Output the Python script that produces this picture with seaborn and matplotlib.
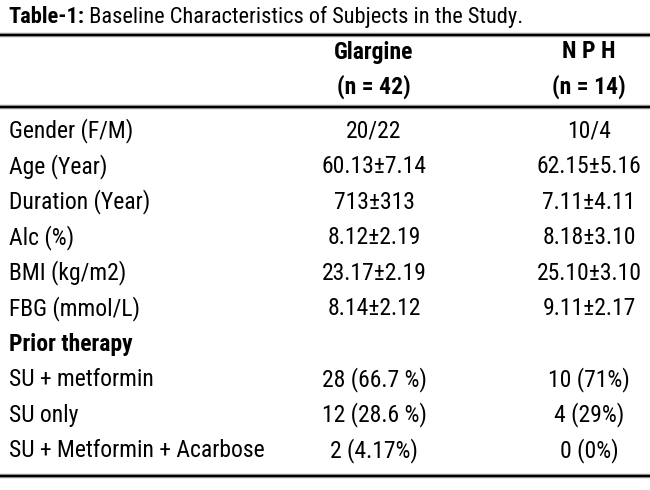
import matplotlib
matplotlib.use("Agg")
import matplotlib.pyplot as plt
from matplotlib import font_manager
import seaborn as sns

# table content
title_bold = "Table-1:"
title_rest = " Baseline Characteristics of Subjects in the Study."
col_names = ["Glargine", "N P H"]
col_counts = ["(n = 42)", "(n = 14)"]
row_labels = ["Gender (F/M)", "Age (Year)", "Duration (Year)", "Alc (%)",
              "BMI (kg/m2)", "FBG (mmol/L)", "Prior therapy",
              "SU + metformin", "SU only", "SU + Metformin + Acarbose"]
glargine = ["20/22", "60.13\u00b17.14", "713\u00b1313", "8.12\u00b12.19",
            "23.17\u00b12.19", "8.14\u00b12.12", "",
            "28 (66.7 %)", "12 (28.6 %)", "2 (4.17%)"]
nph = ["10/4", "62.15\u00b15.16", "7.11\u00b14.11", "8.18\u00b13.10",
       "25.10\u00b13.10", "9.11\u00b12.17", "",
       "10 (71%)", "4 (29%)", "0 (0%)"]
bold_rows = ["Prior therapy"]

sns.set_theme(style="white")
installed = {f.name for f in font_manager.fontManager.ttflist}
prefs = ["Liberation Sans Narrow", "Roboto Condensed", "DejaVu Sans Condensed",
         "Liberation Sans", "Roboto", "DejaVu Sans"]
fam = [n for n in prefs if n in installed][:1]
plt.rcParams['font.family'] = fam + ['DejaVu Sans']

fig = plt.figure(figsize=(6.5, 4.9), dpi=100)
ax = fig.add_axes([0, 0, 1, 1])
ax.set_xlim(0, 650)
ax.set_ylim(490, 0)
ax.axis("off")


def fit_size(s, target, weight="normal", cap=17.0):
    # font size giving the width the reference shows
    p = ax.text(0, 0, s, fontsize=16, fontweight=weight)
    fig.canvas.draw()
    w = p.get_window_extent().width
    p.remove()
    return min(cap, 16 * target / w)


fs = fit_size(row_labels[-1], 261)
fs_title = fit_size(title_bold + title_rest, 510)

col_x = [374, 589]
kw = dict(color="black", va="center")

# title
t = ax.text(8, 17, title_bold, fontsize=fs_title, fontweight="bold", ha="left", **kw)
fig.canvas.draw()
bb = t.get_window_extent().transformed(ax.transData.inverted())
ax.text(bb.x1, 17, title_rest, fontsize=fs_title, ha="left", **kw)

# rules
for y in [35, 107, 476]:
    ax.axhline(y, color="#9a9a9a", lw=3.2)
    ax.axhline(y, color="black", lw=1.6)

# header
for x, name, cnt in zip(col_x, col_names, col_counts):
    ax.text(x, 52, name, fontsize=fs, fontweight="bold", ha="center", **kw)
    ax.text(x, 87, cnt, fontsize=fs, fontweight="bold", ha="center", **kw)

# body
for i, (lab, g, n) in enumerate(zip(row_labels, glargine, nph)):
    y = 131 + 35.5 * i
    wt = "bold" if lab in bold_rows else "normal"
    ax.text(9, y, lab, fontsize=fs, fontweight=wt, ha="left", **kw)
    ax.text(col_x[0], y, g, fontsize=fs, ha="center", **kw)
    ax.text(col_x[1], y, n, fontsize=fs, ha="center", **kw)

fig.savefig("out.png", dpi=100)
